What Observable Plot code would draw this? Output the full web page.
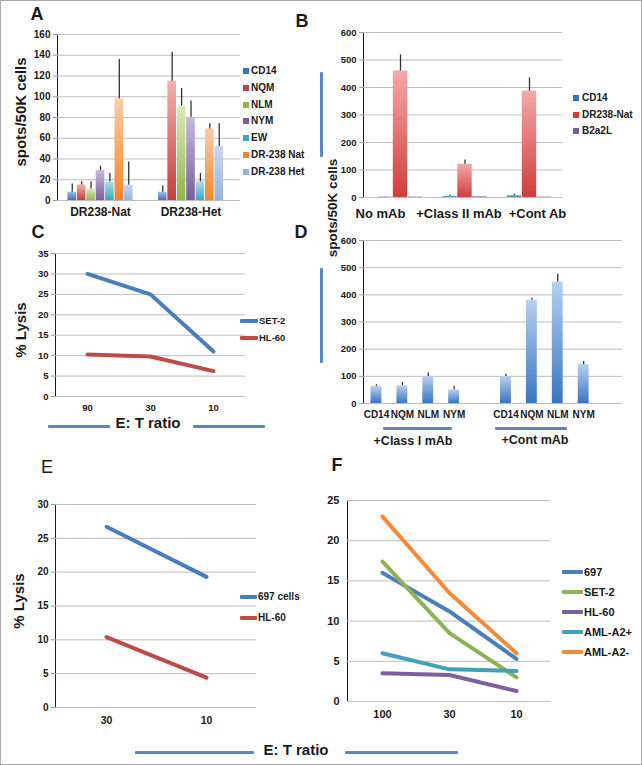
<!DOCTYPE html>
<html><head><meta charset="utf-8">
<script src="https://cdn.jsdelivr.net/npm/d3@7"></script>
<script src="https://cdn.jsdelivr.net/npm/@observablehq/plot@0.6"></script>
<style>
html,body{margin:0;padding:0;background:#fff;}
#fig{position:relative;width:642px;height:765px;overflow:hidden;font-family:"Liberation Sans",Arial,sans-serif;color:#1a1a1a;background:#fff;}
#border{position:absolute;left:0;top:0;width:642px;height:765px;box-sizing:border-box;border:1px solid #a8a8a8;pointer-events:none;}
.abs{position:absolute;white-space:nowrap;transform:translate(-50%,-50%);font-weight:bold;line-height:1;}
.lt{position:absolute;white-space:nowrap;transform:translate(0,-50%);font-weight:bold;line-height:1;}
.hl{position:absolute;height:3px;background:#5b86c4;border-radius:1px;}
.vl{position:absolute;width:3px;background:#5b86c4;border-radius:1px;}
.panel{position:absolute;}
.panel svg{overflow:visible;}
.panel svg text{fill:#1a1a1a;font-family:"Liberation Sans",Arial,sans-serif;font-weight:bold;}
.panel svg [aria-label^="y-axis"], .panel svg [aria-label^="x-axis"]{color:#9a9a9a;}
#pA [aria-label^="y-axis"] text{font-size:10px;}
#pA [aria-label^="x-axis"] text{font-size:12px;}
#pB [aria-label^="y-axis"] text{font-size:9.5px;}
#pC [aria-label^="y-axis"] text{font-size:9.5px;}
#pC [aria-label^="x-axis"] text{font-size:9.5px;}
#pD [aria-label^="y-axis"] text{font-size:9.5px;}
#pD [aria-label^="x-axis"] text{font-size:10px;}
#pE [aria-label^="y-axis"] text{font-size:10px;}
#pE [aria-label^="x-axis"] text{font-size:10.5px;}
#pF [aria-label^="y-axis"] text{font-size:11px;}
#pF [aria-label^="x-axis"] text{font-size:11px;}
</style></head>
<body>
<div id="fig"><div id="border"></div></div>
<script>
// ---------------- DATA ----------------
// Panel A
const groupsA = ["DR238-Nat", "DR238-Het"];
const seriesA = ["CD14", "NQM", "NLM", "NYM", "EW", "DR-238 Nat", "DR-238 Het"];
const natA = [8, 15, 11, 29, 18, 98, 15];
const natErrA = [16, 18, 18, 33, 26, 136, 37];
const hetA = [8, 115, 91, 80, 18, 69, 52];
const hetErrA = [14, 143, 108, 96, 26, 74, 74];
const yTicksA = [0, 20, 40, 60, 80, 100, 120, 140, 160];

// Panel B
const categoriesB = ["No mAb", "+Class II mAb", "+Cont Ab"];
const seriesB = ["CD14", "DR238-Nat", "B2a2L"];
const cd14B = [2, 4, 7];
const cd14ErrB = [3, 8, 12];
const natB = [460, 121, 387];
const natErrB = [519, 136, 435];
const b2a2lB = [2, 3, 2];
const b2a2lErrB = [2, 3, 2];
const yTicksB = [0, 100, 200, 300, 400, 500, 600];

// Panel C
const ratiosC = ["90", "30", "10"];
const seriesC = ["SET-2", "HL-60"];
const set2C = [30, 25, 11];
const hl60C = [10.3, 9.8, 6.2];
const yTicksC = [0, 5, 10, 15, 20, 25, 30, 35];

// Panel D
const peptidesD = ["CD14", "NQM", "NLM", "NYM"];
const groupsD = ["+Class I mAb", "+Cont mAb"];
const classID = [63, 65, 99, 50];
const classIErrD = [69, 77, 112, 63];
const contD = [99, 380, 447, 143];
const contErrD = [108, 387, 476, 155];
const yTicksD = [0, 100, 200, 300, 400, 500, 600];

// Panel E
const ratiosE = ["30", "10"];
const seriesE = ["697 cells", "HL-60"];
const cells697E = [26.7, 19.3];
const hl60E = [10.4, 4.4];
const yTicksE = [0, 5, 10, 15, 20, 25, 30];

// Panel F
const ratiosF = ["100", "30", "10"];
const seriesF = ["697", "SET-2", "HL-60", "AML-A2+", "AML-A2-"];
const f697 = [16, 11.2, 5.3];
const fSet2 = [17.4, 8.5, 3.0];
const fHl60 = [3.5, 3.3, 1.3];
const fAmlPos = [6.0, 4.0, 3.8];
const fAmlNeg = [23.0, 13.5, 6.0];
const yTicksF = [0, 5, 10, 15, 20, 25];

// ---------------- STYLES ----------------
const gradA = [["#9dbde6","#3f72b6"],["#f6aeac","#c23f3c"],["#dbeabb","#93b54f"],["#c8b9dc","#7a5c9e"],["#addfec","#3ea5c1"],["#fccca4","#f2862e"],["#c9daf2","#93b3df"]];
const gradB = [["#9dbde6","#3f72b6"],["#f5a9a8","#cf3e3c"],["#b9a7d3","#7a5c9e"]];
const gradD = ["#b7d1f1","#3a75c1"];
const colC = ["#4a7ebb", "#be4b48"];
const colE = ["#4a7ebb", "#be4b48"];
const colF = ["#4a7ebb", "#8db255", "#7d5fa0", "#3fa2b8", "#f38b3c"];
const FONT = "'Liberation Sans', Arial, sans-serif";

const fig = document.getElementById("fig");

// gradients
(function(){
  let g = "";
  const mk = (id, t, b) => `<linearGradient id="${id}" x1="0" y1="0" x2="0" y2="1"><stop offset="0" stop-color="${t}"/><stop offset="1" stop-color="${b}"/></linearGradient>`;
  gradA.forEach((c,i)=> g += mk("grA"+i, c[0], c[1]));
  gradB.forEach((c,i)=> g += mk("grB"+i, c[0], c[1]));
  g += mk("grD", gradD[0], gradD[1]);
  const holder = document.createElement("div");
  holder.innerHTML = `<svg width="0" height="0" style="position:absolute;left:0;top:0"><defs>${g}</defs></svg>`;
  fig.appendChild(holder);
})();

function addPlot(id, box, plotOpts) {
  const ml = 45, mr = 12, mt = 12, mb = 32;
  const [x0, x1, yT, yB] = box;
  const svg = Plot.plot(Object.assign({
    width: x1 - x0 + ml + mr, height: yB - yT + mt + mb,
    marginLeft: ml, marginRight: mr, marginTop: mt, marginBottom: mb,
    style: {fontFamily: FONT, fontWeight: "bold", fontSize: "10px", background: "transparent", color: "#1a1a1a", overflow: "visible"}
  }, plotOpts));
  const d = document.createElement("div");
  d.id = id; d.className = "panel";
  d.style.left = (x0 - ml) + "px"; d.style.top = (yT - mt) + "px";
  d.appendChild(svg); fig.appendChild(d);
}
function txt(s, x, y, size, extra) {
  const d = document.createElement("div");
  d.className = "abs"; d.textContent = s;
  d.style.left = x + "px"; d.style.top = y + "px"; d.style.fontSize = size + "px";
  if (extra) Object.assign(d.style, extra);
  fig.appendChild(d); return d;
}
function ltxt(s, x, y, size) {
  const d = document.createElement("div");
  d.className = "lt"; d.textContent = s;
  d.style.left = x + "px"; d.style.top = y + "px"; d.style.fontSize = size + "px";
  fig.appendChild(d); return d;
}
function hline(x1, x2, y, h, color) {
  const d = document.createElement("div"); d.className = "hl";
  d.style.left = x1 + "px"; d.style.width = (x2 - x1) + "px"; d.style.top = (y - (h||3)/2) + "px";
  if (h) d.style.height = h + "px";
  if (color) d.style.background = color;
  fig.appendChild(d);
}
function vline(x, y1, y2) {
  const d = document.createElement("div"); d.className = "vl";
  d.style.left = (x - 1.5) + "px"; d.style.top = y1 + "px"; d.style.height = (y2 - y1) + "px";
  fig.appendChild(d);
}
function square(x, y, color) {
  const d = document.createElement("div");
  Object.assign(d.style, {position:"absolute", left: x+"px", top: (y-3)+"px", width:"6px", height:"6px", background: color});
  fig.appendChild(d);
}

const yAxis = (domain, ticks) => ({domain, ticks, tickSize: 4, tickPadding: 3, line: true, label: null});

// ---------------- PANEL A ----------------
{
  const w = 0.104;
  const rows = [];
  [natA, hetA].forEach((vals, g) => vals.forEach((v, s) => rows.push({g, s, v, e: [natErrA, hetErrA][g][s]})));
  addPlot("pA", [57, 240, 34, 200], {
    x: {domain: [-0.475, 1.547], ticks: [0, 1], tickFormat: i => groupsA[i], tickSize: 0, tickPadding: 7, label: null},
    y: yAxis([0, 160], yTicksA),
    marks: [
      Plot.ruleY(yTicksA, {stroke: "#bdbdbd"}),
      ...seriesA.map((name, s) => Plot.rect(rows.filter(d => d.s === s), {
        x1: d => d.g + (d.s - 3.5) * w, x2: d => d.g + (d.s - 2.5) * w,
        y1: d => 0, y2: "v", fill: `url(#grA${s})`, insetLeft: 0.4, insetRight: 0.4})),
      Plot.ruleX(rows, {x: d => d.g + (d.s - 3) * w, y1: "v", y2: "e", stroke: "#333", strokeWidth: 1.3})
    ]
  });
  seriesA.forEach((name, i) => {
    const y = 71 + i * 16.8;
    square(243, y, gradA[i][1]);
    ltxt(name, 251, y, 10);
  });
  txt("A", 37, 14, 18);
  txt("spots/50K cells", 20, 112, 15, {transform: "translate(-50%,-50%) rotate(-90deg)"});
}

// ---------------- PANEL B ----------------
{
  const w = 0.2326;
  const vals = [cd14B, natB, b2a2lB], errs = [cd14ErrB, natErrB, b2a2lErrB];
  const rows = [];
  categoriesB.forEach((c, i) => seriesB.forEach((name, s) => rows.push({i, s, v: vals[s][i], e: errs[s][i]})));
  addPlot("pB", [363, 562, 32, 197], {
    x: {domain: [-0.574, 2.512], axis: null},
    y: yAxis([0, 600], yTicksB),
    marks: [
      Plot.ruleY(yTicksB, {stroke: "#bdbdbd"}),
      ...seriesB.map((name, s) => Plot.rect(rows.filter(d => d.s === s), {
        x1: d => d.i + (d.s - 1.5) * w, x2: d => d.i + (d.s - 0.5) * w,
        y1: d => 0, y2: "v", fill: `url(#grB${s})`, insetLeft: 0.3, insetRight: 0.3})),
      Plot.ruleX(rows.filter(d => d.e > d.v), {x: d => d.i + (d.s - 1) * w, y1: "v", y2: "e", stroke: "#333", strokeWidth: 1.3}),
      ...categoriesB.map((c, i) => Plot.text([c], {x: () => i, y: () => 0, text: d => d, dy: 16, dx: [-20, -6, 8][i], fontSize: 13, fontWeight: "bold"}))
    ]
  });
  seriesB.forEach((name, i) => {
    const y = 98 + i * 16.5;
    square(573, y, gradB[i][1]);
    ltxt(name, 582, y, 10);
  });
  txt("B", 302, 21, 18);
  txt("spots/50K cells", 333, 208, 13.5, {transform: "translate(-50%,-50%) rotate(-90deg)"});
  vline(321, 72, 157);
  vline(321, 268, 363);
}

// ---------------- PANEL C ----------------
{
  const series = [set2C, hl60C];
  addPlot("pC", [55, 245, 253, 396], {
    x: {type: "point", domain: ratiosC, padding: 0.5, tickSize: 0, tickPadding: 8, label: null},
    y: yAxis([0, 35], yTicksC),
    marks: [
      Plot.ruleY(yTicksC, {stroke: "#bdbdbd"}),
      ...seriesC.map((name, k) => Plot.line(ratiosC.map((r, i) => ({r, v: series[k][i]})), {x: "r", y: "v", stroke: colC[k], strokeWidth: 4}))
    ]
  });
  seriesC.forEach((name, k) => {
    const y = 321 + k * 17;
    hline(240, 258, y, 4, colC[k]);
    ltxt(name, 259, y, 9.5);
  });
  txt("C", 38, 232, 18);
  txt("% Lysis", 20, 330, 15, {transform: "translate(-50%,-50%) rotate(-90deg)"});
  txt("E: T ratio", 148, 422, 15);
  hline(48, 110, 426);
  hline(193, 265, 426);
}

// ---------------- PANEL D ----------------
{
  const rows = [];
  [[classID, classIErrD], [contD, contErrD]].forEach(([vals, errs], g) =>
    peptidesD.forEach((p, s) => rows.push({idx: g * 5 + s, v: vals[s], e: errs[s]})));
  addPlot("pD", [363, 622, 240, 403], {
    x: {domain: [-0.5, 9.5], ticks: rows.map(d => d.idx), tickFormat: i => peptidesD[i % 5], tickSize: 0, tickPadding: 7, label: null},
    y: yAxis([0, 600], yTicksD),
    marks: [
      Plot.ruleY(yTicksD, {stroke: "#bdbdbd"}),
      Plot.rect(rows, {x1: d => d.idx - 0.21, x2: d => d.idx + 0.21, y1: d => 0, y2: "v", fill: "url(#grD)"}),
      Plot.ruleX(rows, {x: "idx", y1: "v", y2: "e", stroke: "#333", strokeWidth: 1.3})
    ]
  });
  txt("D", 301, 232, 18);
  txt(groupsD[0], 413, 441, 12.5);
  txt(groupsD[1], 535, 440, 12.5);
  hline(383, 452, 428);
  hline(495, 567, 428);
}

// ---------------- PANEL E ----------------
{
  const series = [cells697E, hl60E];
  addPlot("pE", [55, 256, 504, 707], {
    x: {type: "point", domain: ratiosE, padding: 0.5, tickSize: 0, tickPadding: 9, label: null},
    y: yAxis([0, 30], yTicksE),
    marks: [
      Plot.ruleY(yTicksE, {stroke: "#bdbdbd"}),
      ...seriesE.map((name, k) => Plot.line(ratiosE.map((r, i) => ({r, v: series[k][i]})), {x: "r", y: "v", stroke: colE[k], strokeWidth: 4}))
    ]
  });
  seriesE.forEach((name, k) => {
    const y = 597 + k * 21;
    hline(240, 257, y, 4, colE[k]);
    ltxt(name, 258, y, 10);
  });
  txt("E", 47, 467, 18, {fontWeight: "normal"});
  txt("% Lysis", 18, 601, 15, {transform: "translate(-50%,-50%) rotate(-90deg)"});
}

// ---------------- PANEL F ----------------
{
  const series = [f697, fSet2, fHl60, fAmlPos, fAmlNeg];
  addPlot("pF", [347, 550, 500, 701], {
    x: {type: "point", domain: ratiosF, padding: 0.5, tickSize: 0, tickPadding: 9, label: null},
    y: Object.assign(yAxis([0, 25], yTicksF), {tickSize: 0, tickPadding: 8}),
    marks: [
      Plot.ruleY(yTicksF, {stroke: "#bdbdbd"}),
      ...seriesF.map((name, k) => Plot.line(ratiosF.map((r, i) => ({r, v: series[k][i]})), {x: "r", y: "v", stroke: colF[k], strokeWidth: 4}))
    ]
  });
  seriesF.forEach((name, k) => {
    const y = 572 + k * 20;
    hline(562, 583, y, 4, colF[k]);
    ltxt(name, 584, y, 11);
  });
  txt("F", 337, 465, 18);
  txt("E: T ratio", 296, 749, 15);
  hline(135, 254, 752);
  hline(345, 458, 752);
}
</script>
</body></html>
